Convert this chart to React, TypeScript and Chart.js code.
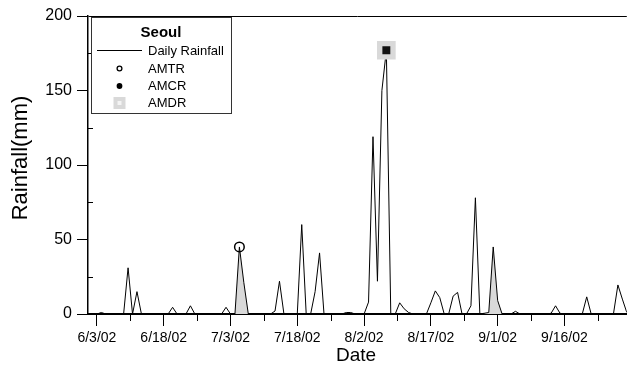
import React, { useEffect, useRef } from 'react';
import { Chart, registerables } from 'chart.js';

Chart.register(...registerables);

// Daily rainfall (mm) at Seoul, one value per day from 6/1/02 (day 0) to 9/30/02 (day 121)
const rainfall: number[] = [
  0, 0, 0, 1, 0, 0, 0, 0, 0, 31,
  0, 15, 0, 0, 0, 0, 0, 0, 0, 4.5,
  0, 0, 0, 5.5, 0, 0, 0, 0, 0, 0,
  0, 4.5, 0, 0, 45, 21, 0, 0, 0, 0,
  0, 0, 2, 22, 0, 0, 0, 0, 60, 0,
  0, 15, 41, 0, 0, 0, 0, 0, 1, 1,
  0, 0, 0, 8, 119, 22, 150, 177, 0, 0,
  7.5, 3.5, 1, 0, 0, 0, 0, 7.5, 15.5, 11,
  0, 0, 12, 14.5, 0, 0, 5.5, 78, 0, 0.5,
  1, 45, 9, 0, 0, 0, 1.8, 0, 0, 0,
  0, 0, 0, 0, 0.5, 5.5, 0.5, 0, 0, 0,
  0, 0, 11.5, 0, 0, 0, 0, 0, 0, 19.5,
  10, 1,
];

// Shaded events: [first day, last day]
const shadedStart: number[] = [33, 89];
const shadedEnd: number[] = [36, 93];

// Markers (day index, value)
const amtrDays: number[] = [34];
const amtrValues: number[] = [45];
const amcrDays: number[] = [67];
const amcrValues: number[] = [177];
const amdrDays: number[] = [67];
const amdrValues: number[] = [177];

// X axis ticks (day index) and labels (major ticks labelled)
const xTickDays: number[] = [2, 9.5, 17, 24.5, 32, 39.5, 47, 54.5, 62, 69.5, 77, 84.5, 92, 99.5, 107, 114.5];
const xTickLabels: string[] = ['6/3/02', '', '6/18/02', '', '7/3/02', '', '7/18/02', '', '8/2/02', '', '8/17/02', '', '9/1/02', '', '9/16/02', ''];
const yTickValues: number[] = [0, 50, 100, 150, 200];
const yMinorTicks: number[] = [25, 75, 125, 175];

const legendTitle = 'Seoul';
const legendLabels: string[] = ['Daily Rainfall', 'AMTR', 'AMCR', 'AMDR'];
const xTitle = 'Date';
const yTitle = 'Rainfall(mm)';

const FONT = '"Liberation Sans", Arial, Helvetica, sans-serif';
const GRAY = '#d9d9d9';

const decorPlugin = {
  id: 'decor',
  afterDraw(chart: any) {
    const { ctx, chartArea, scales } = chart;
    const xs = scales.x;
    const ys = scales.y;
    ctx.save();
    ctx.strokeStyle = '#000';
    ctx.lineWidth = 1;
    // minor x ticks (outward)
    ctx.beginPath();
    xTickDays.forEach((d, i) => {
      if (i % 2 === 1) {
        const px = Math.round(xs.getPixelForValue(d)) + 0.5;
        ctx.moveTo(px, chartArea.bottom);
        ctx.lineTo(px, chartArea.bottom + 7);
      }
    });
    // minor y ticks (inward)
    yMinorTicks.forEach((v) => {
      const py = Math.round(ys.getPixelForValue(v)) + 0.5;
      ctx.moveTo(chartArea.left, py);
      ctx.lineTo(chartArea.left + 5, py);
    });
    ctx.stroke();

    // axis titles
    ctx.fillStyle = '#000';
    ctx.textAlign = 'center';
    ctx.textBaseline = 'middle';
    ctx.font = `19px ${FONT}`;
    ctx.fillText(xTitle, 356, 356);
    ctx.save();
    ctx.translate(21, 158);
    ctx.rotate(-Math.PI / 2);
    ctx.font = `22px ${FONT}`;
    ctx.fillText(yTitle, 0, 0);
    ctx.restore();

    // legend box
    const bx = 91.5, by = 17.5, bw = 140, bh = 96;
    ctx.fillStyle = '#fff';
    ctx.fillRect(bx, by, bw, bh);
    ctx.strokeStyle = '#333';
    ctx.lineWidth = 1;
    ctx.strokeRect(bx, by, bw, bh);

    ctx.fillStyle = '#000';
    ctx.font = `bold 15px ${FONT}`;
    ctx.textAlign = 'center';
    ctx.fillText(legendTitle, 161, 33);

    ctx.font = `13px ${FONT}`;
    ctx.textAlign = 'left';
    const rows = [51, 69, 86, 103];
    // line sample
    ctx.strokeStyle = '#000';
    ctx.lineWidth = 1;
    ctx.beginPath();
    ctx.moveTo(97, 50.5);
    ctx.lineTo(142, 50.5);
    ctx.stroke();
    // AMTR open circle
    ctx.beginPath();
    ctx.lineWidth = 1.3;
    ctx.arc(119.5, 68.5, 2.4, 0, Math.PI * 2);
    ctx.stroke();
    // AMCR filled circle
    ctx.beginPath();
    ctx.arc(119.5, 86, 2.9, 0, Math.PI * 2);
    ctx.fill();
    // AMDR square
    ctx.fillStyle = GRAY;
    ctx.fillRect(113.5, 97, 12, 12);
    ctx.fillStyle = '#f4f4f4';
    ctx.fillRect(117.5, 101, 4, 4);

    ctx.fillStyle = '#000';
    legendLabels.forEach((t, i) => ctx.fillText(t, 148, rows[i]));
    ctx.restore();
  },
};

export default function App() {
  const ref = useRef<HTMLCanvasElement | null>(null);

  useEffect(() => {
    if (!ref.current) return;
    const lineData = rainfall.map((v, i) => ({ x: i, y: v }));
    const shadeData = rainfall.map((v, i) => {
      const inside = shadedStart.some((s, k) => i >= s && i <= shadedEnd[k]);
      return { x: i, y: inside ? v : null };
    });
    const toPts = (ds: number[], vs: number[]) => ds.map((d, i) => ({ x: d, y: vs[i] }));

    const chart = new Chart(ref.current, {
      type: 'line',
      data: {
        datasets: [
          {
            label: 'AMTR',
            data: toPts(amtrDays, amtrValues),
            showLine: false,
            pointStyle: 'circle',
            pointRadius: 4.8,
            pointBorderWidth: 1.5,
            pointBorderColor: '#000',
            pointBackgroundColor: 'rgba(0,0,0,0)',
            order: 1,
          },
          {
            label: 'AMCR',
            data: toPts(amcrDays, amcrValues),
            showLine: false,
            pointStyle: 'rect',
            pointRadius: 5.6,
            pointBorderWidth: 0,
            pointBackgroundColor: '#111',
            order: 2,
          },
          {
            label: 'AMDR',
            data: toPts(amdrDays, amdrValues),
            showLine: false,
            pointStyle: 'rect',
            pointRadius: 13.2,
            pointBorderWidth: 0,
            pointBackgroundColor: GRAY,
            order: 3,
          },
          {
            label: 'Daily Rainfall',
            data: lineData,
            borderColor: '#000',
            borderWidth: 1,
            pointRadius: 0,
            tension: 0,
            fill: false,
            order: 4,
          },
          {
            label: 'shade',
            data: shadeData as any,
            borderColor: 'rgba(0,0,0,0)',
            borderWidth: 0,
            backgroundColor: GRAY,
            pointRadius: 0,
            tension: 0,
            fill: 'origin',
            spanGaps: false,
            order: 5,
          },
        ],
      },
      options: {
        animation: false,
        responsive: false,
        maintainAspectRatio: false,
        layout: { padding: { left: 0, top: 16, right: 12.3, bottom: 0 } },
        plugins: {
          legend: { display: false },
          tooltip: { enabled: false },
        },
        scales: {
          x: {
            type: 'linear',
            min: 0,
            max: 121,
            offset: false,
            afterFit: (s: any) => { s.height = 65; },
            afterBuildTicks: (s: any) => { s.ticks = xTickDays.map((v) => ({ value: v })); },
            ticks: {
              autoSkip: false,
              maxRotation: 0,
              minRotation: 0,
              padding: 4,
              color: '#000',
              font: { family: FONT, size: 14 },
              callback: (_v: any, i: number) => xTickLabels[i],
            },
            grid: {
              drawOnChartArea: false,
              drawTicks: true,
              tickLength: 12,
              tickWidth: 1,
              tickColor: (c: any) => (c.index % 2 === 0 ? '#000' : 'rgba(0,0,0,0)'),
            },
            border: { display: true, color: '#000', width: 2 },
          },
          y: {
            type: 'linear',
            min: 0,
            max: 200,
            afterFit: (s: any) => { s.width = 88; },
            afterBuildTicks: (s: any) => { s.ticks = yTickValues.map((v) => ({ value: v })); },
            ticks: {
              padding: 5,
              color: '#000',
              font: { family: FONT, size: 16 },
            },
            grid: {
              drawOnChartArea: true,
              drawTicks: true,
              tickLength: 11,
              tickWidth: 1,
              tickColor: '#000',
              lineWidth: 1,
              color: (c: any) => (c.tick && c.tick.value === 200 ? '#000' : 'rgba(0,0,0,0)'),
            },
            border: { display: true, color: '#000', width: 1.5 },
          },
        },
      },
      plugins: [decorPlugin],
    });
    return () => chart.destroy();
  }, []);

  return (
    <div style={{ position: 'fixed', left: 0, top: 0, width: 627, height: 379, overflow: 'hidden', background: '#fff' }}>
      <canvas ref={ref} width={640} height={379} style={{ width: 640, height: 379, display: 'block' }} />
    </div>
  );
}
